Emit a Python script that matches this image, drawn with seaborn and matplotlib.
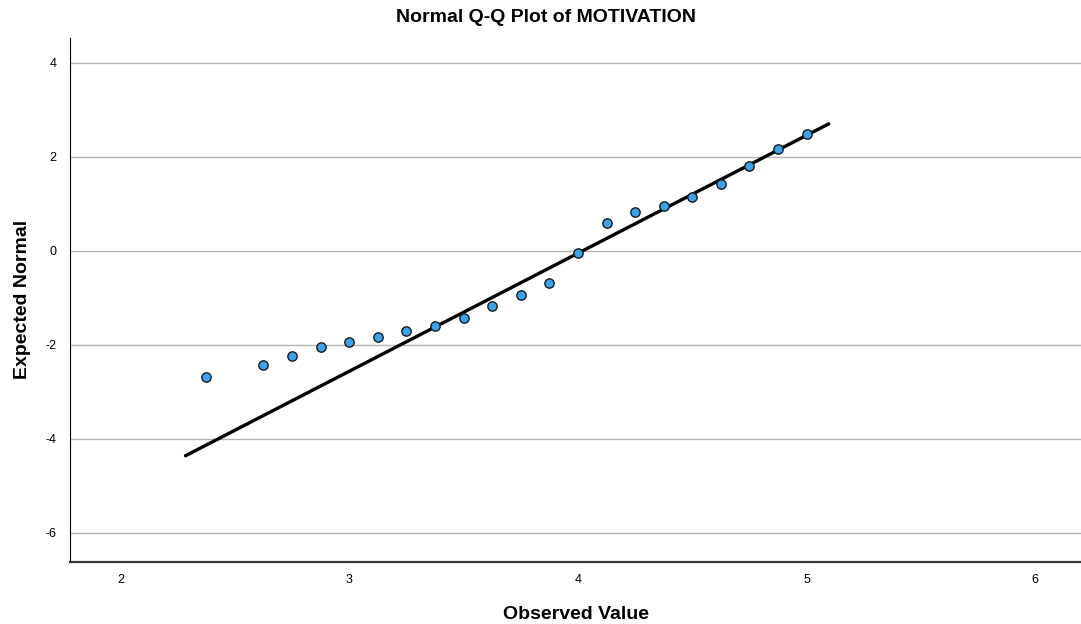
import numpy as np
import pandas as pd
import seaborn as sns
import matplotlib.pyplot as plt

observed = [2.375, 2.625, 2.75, 2.875, 3.0, 3.125, 3.25, 3.375, 3.5, 3.625, 3.75,
            3.875, 4.0, 4.125, 4.25, 4.375, 4.5, 4.625, 4.75, 4.875, 5.0]
expected = [-2.68, -2.43, -2.23, -2.04, -1.94, -1.83, -1.70, -1.60, -1.43, -1.17, -0.94,
            -0.68, -0.04, 0.60, 0.83, 0.96, 1.15, 1.43, 1.81, 2.17, 2.49]

# Reference line endpoints
line_x = [2.284, 5.097]
line_y = [-4.36, 2.70]

x_ticks = [2, 3, 4, 5, 6]
y_ticks = [4, 2, 0, -2, -4, -6]

sns.set_theme(style="white")
plt.rcParams['font.family'] = ['Liberation Sans Narrow', 'Liberation Sans', 'DejaVu Sans']
plt.rcParams['axes.unicode_minus'] = False

fig = plt.figure(figsize=(10.81, 6.24), dpi=100)
ax = fig.add_axes([0.065, 0.0994, 0.935, 0.84])

points = pd.DataFrame({'observed': observed, 'expected': expected})
lines = pd.DataFrame({'x': line_x, 'y': line_y})

sns.lineplot(data=lines, x='x', y='y', color='black', linewidth=2.4, ax=ax, zorder=2)
sns.scatterplot(data=points, x='observed', y='expected', color='#3ba3ec',
                edgecolor='#1a1a1a', linewidth=1.0, s=45, ax=ax, zorder=3)

ax.set_xlim(1.78, 6.20)
ax.set_ylim(-6.62, 4.53)
ax.set_xticks(x_ticks)
ax.set_yticks(y_ticks)
ax.tick_params(axis='x', length=0, labelsize=9, pad=9, labelcolor='black')
ax.tick_params(axis='y', length=0, labelsize=9, pad=10, labelcolor='black')
ax.grid(axis='y', color='#b4b4b4', linewidth=1.0)
ax.grid(axis='x', visible=False)
ax.set_axisbelow(True)

for side in ['top', 'right']:
    ax.spines[side].set_visible(False)
ax.spines['left'].set_color('black')
ax.spines['left'].set_linewidth(0.8)
ax.spines['bottom'].set_color('#333333')
ax.spines['bottom'].set_linewidth(1.6)

# title is centred on the figure, not the axes
fig.text(0.505, 0.972, 'Normal Q-Q Plot of MOTIVATION', fontsize=14, fontweight='bold',
         color='black', ha='center', va='center')
ax.set_xlabel('Observed Value', fontsize=14, fontweight='bold', color='black', labelpad=14)
ax.set_ylabel('Expected Normal', fontsize=14, fontweight='bold', color='black', labelpad=10)

fig.savefig('out.png', dpi=100)
